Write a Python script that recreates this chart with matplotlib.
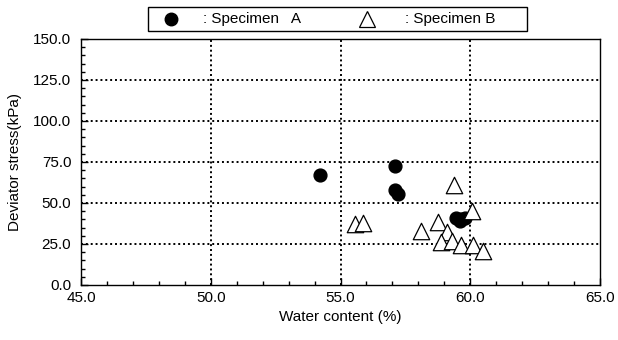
import matplotlib.pyplot as plt
from matplotlib.lines import Line2D
from matplotlib.patches import Rectangle
from matplotlib.ticker import MultipleLocator

plt.rcParams['font.family'] = ['Liberation Sans', 'DejaVu Sans']

# water content (%) / deviator stress (kPa)
a_water = [54.2, 57.1, 57.1, 57.2, 59.45, 59.65, 59.8, 59.6]
a_stress = [66.9, 72.5, 57.9, 55.5, 41.0, 40.0, 41.0, 39.0]

b_water = [59.37, 60.06, 55.56, 55.86, 58.1, 58.77, 59.1, 58.88, 59.28, 59.63, 60.12, 60.5]
b_stress = [61.0, 45.0, 37.2, 37.6, 33.0, 38.6, 32.5, 26.0, 27.0, 24.4, 24.4, 20.9]

W, H = 618, 340
fig = plt.figure(figsize=(W / 100, H / 100), dpi=100)
ax = fig.add_axes([0.1311, 0.1618, 0.8398, 0.7235])

ax.set_xlim(45, 65)
ax.set_ylim(0, 150)

ax.scatter(a_water, a_stress, s=85, marker='o', color='black', zorder=3)
ax.scatter(b_water, b_stress, s=140, marker='^', facecolor='white',
           edgecolor='black', linewidths=0.9, zorder=4)

for yv in [25, 50, 75, 100, 125]:
    ax.axhline(yv, color='black', linestyle=(0, (1, 1.5)), linewidth=1.4, zorder=1)
for xv in [50, 55, 60]:
    ax.axvline(xv, color='black', linestyle=(0, (1, 1.5)), linewidth=1.4, zorder=1)

ax.xaxis.set_major_locator(MultipleLocator(5))
ax.xaxis.set_minor_locator(MultipleLocator(1))
ax.yaxis.set_major_locator(MultipleLocator(25))
ax.yaxis.set_minor_locator(MultipleLocator(5))
ax.xaxis.set_major_formatter(lambda v, p: f'{v:.1f}')
ax.yaxis.set_major_formatter(lambda v, p: f'{v:.1f}')
ax.tick_params(which='both', direction='in', top=False, right=False,
               labelsize=11, width=1.0)
ax.tick_params(axis='y', which='major', length=5, pad=7)
ax.tick_params(axis='x', which='major', length=5, pad=4)
ax.tick_params(which='minor', length=3)
for sp in ax.spines.values():
    sp.set_linewidth(1.0)

ax.set_xlabel('Water content (%)', fontsize=11, labelpad=4)
ax.set_ylabel('Deviator stress(kPa)', fontsize=11, labelpad=8)

# legend box drawn by hand above the axes (pixel positions -> figure fraction)
def fx(px):
    return px / W

def fy(py):
    return 1 - py / H

fig.patches.append(Rectangle((fx(148), fy(31)), fx(527) - fx(148), fy(7) - fy(31),
                             transform=fig.transFigure, fill=False,
                             edgecolor='black', linewidth=1.0))
fig.lines.append(Line2D([fx(171)], [fy(19)], transform=fig.transFigure,
                        marker='o', markersize=9, color='black', linestyle='none'))
fig.lines.append(Line2D([fx(367)], [fy(19)], transform=fig.transFigure,
                        marker='^', markersize=12, markerfacecolor='white',
                        markeredgecolor='black', markeredgewidth=0.9,
                        linestyle='none'))
fig.text(fx(203), fy(19), ': Specimen   A', fontsize=11, va='center', ha='left')
fig.text(fx(405), fy(19), ': Specimen B', fontsize=11, va='center', ha='left')

plt.savefig('out.png', dpi=100)
plt.close()
